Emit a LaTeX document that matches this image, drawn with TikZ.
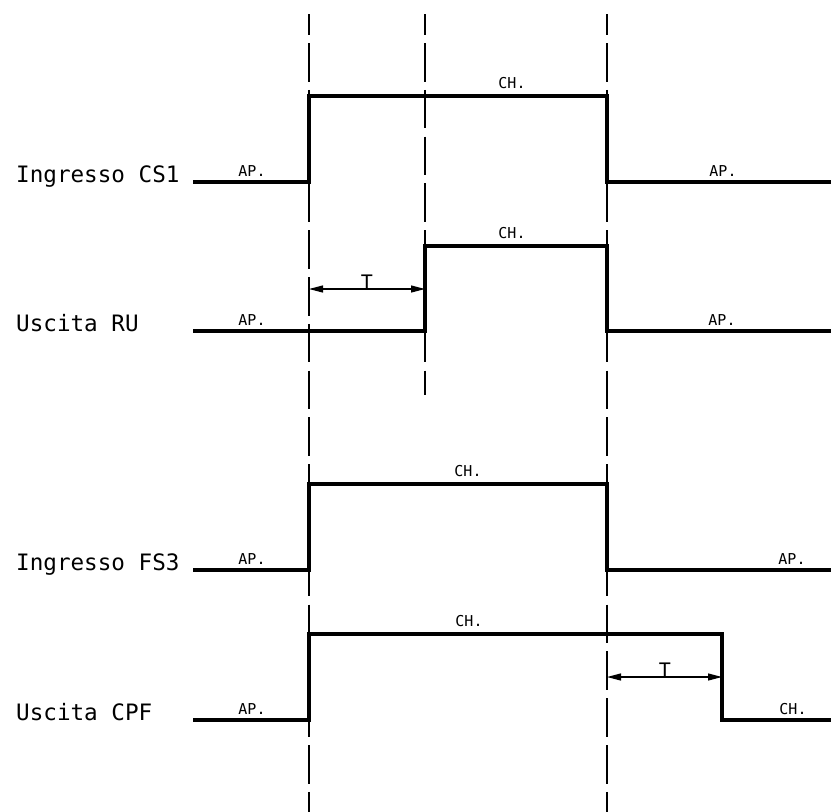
\documentclass[tikz,border=0pt]{standalone}
\usepackage{fontspec}
\setmonofont{DejaVu Sans Mono}
\usetikzlibrary{arrows.meta}

\tikzset{wave/.style={draw=black,line width=3.3pt,line join=miter}}
\tikzset{guide/.style={draw=black,line width=1.3pt,dash pattern=on 38.5pt off 8.3pt,dash phase=17.8pt}}
\tikzset{span/.style={draw=black,line width=1.2pt,{Triangle[length=14pt,width=7pt]}-{Triangle[length=14pt,width=7pt]}}}
\tikzset{signame/.style={font=\ttfamily\fontsize{22.6}{22.6}\selectfont,anchor=base west,inner sep=0pt}}
\tikzset{level/.style={font=\ttfamily\fontsize{15}{15}\selectfont,anchor=base,inner sep=0pt}}
\tikzset{tlab/.style={font=\ttfamily\fontsize{20}{20}\selectfont,anchor=base,inner sep=0pt}}

\begin{document}
\begin{tikzpicture}[x=1pt,y=-1pt]
    \useasboundingbox (0,0) rectangle (831,812);
    % switching instants
    \coordinate (ga) at (309,14);
    \coordinate (gb) at (425,14);
    \coordinate (gc) at (607,14);
    \coordinate (gae) at (309,812);
    \coordinate (gbe) at (425,395);
    \coordinate (gce) at (607,812);
    \draw[guide] (ga) -- (gae);
    \draw[guide] (gb) -- (gbe);
    \draw[guide] (gc) -- (gce);
    % input CS1
    \node[signame] (ncs1) at (16,182) {Ingresso CS1};
    \draw[wave] (193,182) -- (309,182) -- (309,96) -- (607,96) -- (607,182) -- (831,182);
    \node[level] (cs1a) at (252,176) {AP.};
    \node[level] (cs1c) at (512,88)  {CH.};
    \node[level] (cs1b) at (723,176) {AP.};
    % output RU
    \node[signame] (nru) at (16,331) {Uscita RU};
    \draw[wave] (193,331) -- (425,331) -- (425,246) -- (607,246) -- (607,331) -- (831,331);
    \node[level] (rua) at (252,325) {AP.};
    \node[level] (ruc) at (512,238) {CH.};
    \node[level] (rub) at (722,325) {AP.};
    % delay T on RU
    \coordinate (da) at (309,289);
    \coordinate (db) at (425,289);
    \draw[span] (da) -- (db);
    \node[tlab] (ta) at (367,289) {T};
    % input FS3
    \node[signame] (nfs3) at (16,570) {Ingresso FS3};
    \draw[wave] (193,570) -- (309,570) -- (309,484) -- (607,484) -- (607,570) -- (831,570);
    \node[level] (fs3a) at (252,564) {AP.};
    \node[level] (fs3c) at (468,476) {CH.};
    \node[level] (fs3b) at (792,564) {AP.};
    % output CPF
    \node[signame] (ncpf) at (16,720) {Uscita CPF};
    \draw[wave] (193,720) -- (309,720) -- (309,634) -- (722,634) -- (722,720) -- (831,720);
    \node[level] (cpfa) at (252,714) {AP.};
    \node[level] (cpfc) at (469,626) {CH.};
    \node[level] (cpfb) at (793,714) {CH.};
    % delay T on CPF
    \coordinate (dc) at (607,677);
    \coordinate (dd) at (722,677);
    \draw[span] (dc) -- (dd);
    \node[tlab] (tb) at (665,677) {T};
\end{tikzpicture}
\end{document}
